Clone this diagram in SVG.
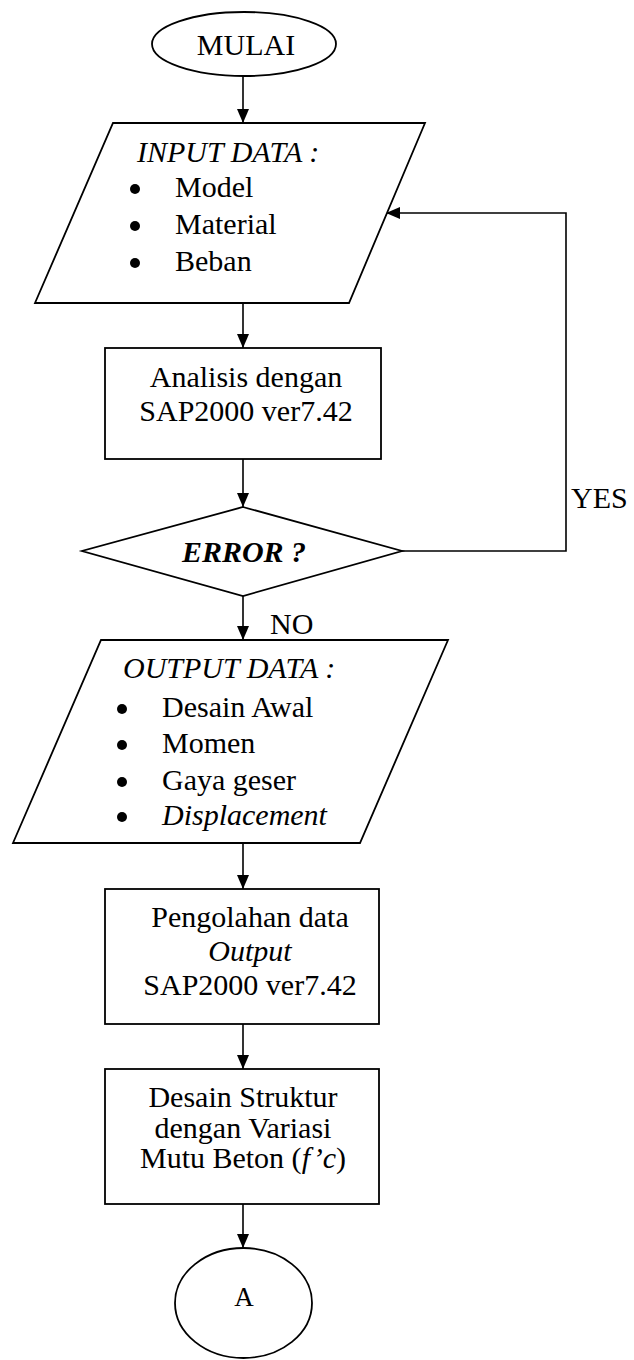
<svg xmlns="http://www.w3.org/2000/svg" width="634" height="1360" viewBox="0 0 634 1360" font-family="'Liberation Serif', 'Times New Roman', Times, 'DejaVu Serif', serif">
<style>
.shape{fill:#fff;stroke:#000;stroke-width:1.8}
.line{fill:none;stroke:#000;stroke-width:1.6}
text{font-family:'Liberation Serif', 'Times New Roman', Times, 'DejaVu Serif', serif;font-size:30px;fill:#000}
.c{text-anchor:middle}
.i{font-style:italic}
.b{font-weight:bold}
.dot{fill:#000}
</style>
<defs>
<marker id="arr" markerUnits="userSpaceOnUse" markerWidth="14" markerHeight="12" refX="14" refY="6" orient="auto">
<path d="M0,0 L14,6 L0,12 z" fill="#000"/>
</marker>
</defs>
<rect width="634" height="1360" fill="#fff"/>
<g id="connectors">
<line class="line" x1="243" y1="76" x2="243" y2="123" marker-end="url(#arr)"/>
<line class="line" x1="243" y1="303" x2="243" y2="348" marker-end="url(#arr)"/>
<line class="line" x1="243" y1="459" x2="243" y2="507" marker-end="url(#arr)"/>
<line class="line" x1="243" y1="596" x2="243" y2="640" marker-end="url(#arr)"/>
<polyline class="line" points="402,551 566,551 566,213 386,213" marker-end="url(#arr)"/>
<line class="line" x1="243" y1="843" x2="243" y2="889" marker-end="url(#arr)"/>
<line class="line" x1="243" y1="1024" x2="243" y2="1069" marker-end="url(#arr)"/>
<line class="line" x1="243" y1="1204" x2="243" y2="1248" marker-end="url(#arr)"/>
<text x="571" y="508">YES</text>
<text x="270" y="634">NO</text>
</g>
<g id="mulai">
<ellipse class="shape" cx="244" cy="44" rx="92" ry="32"/>
<text class="c" x="246" y="55">MULAI</text>
</g>
<g id="input">
<polygon class="shape" points="113,123 425,123 349,303 35,303"/>
<text class="i" x="137" y="162">INPUT DATA :</text>
<circle class="dot" cx="135" cy="189" r="5"/>
<text x="175" y="197">Model</text>
<circle class="dot" cx="135" cy="226" r="5"/>
<text x="175" y="234">Material</text>
<circle class="dot" cx="135" cy="263" r="5"/>
<text x="175" y="271">Beban</text>
</g>
<g id="analisis">
<rect class="shape" x="105" y="348" width="276" height="111"/>
<text class="c" x="246" y="387">Analisis dengan</text>
<text class="c" x="246" y="421">SAP2000 ver7.42</text>
</g>
<g id="error">
<polygon class="shape" points="243,507 402,551 243,596 82,551"/>
<text class="c i b" x="244" y="562">ERROR ?</text>
</g>
<g id="output">
<polygon class="shape" points="101,640 448,640 360,843 13,843"/>
<text class="i" x="123" y="678">OUTPUT DATA :</text>
<circle class="dot" cx="122" cy="709" r="5"/>
<text x="162" y="717">Desain Awal</text>
<circle class="dot" cx="122" cy="745" r="5"/>
<text x="162" y="753">Momen</text>
<circle class="dot" cx="122" cy="782" r="5"/>
<text x="162" y="790">Gaya geser</text>
<circle class="dot" cx="122" cy="817" r="5"/>
<text class="i" x="162" y="825">Displacement</text>
</g>
<g id="pengolahan">
<rect class="shape" x="105" y="889" width="274" height="135"/>
<text class="c" x="250" y="927">Pengolahan data</text>
<text class="c i" x="250" y="961">Output</text>
<text class="c" x="250" y="995">SAP2000 ver7.42</text>
</g>
<g id="desain">
<rect class="shape" x="105" y="1069" width="274" height="135"/>
<text class="c" x="243" y="1107">Desain Struktur</text>
<text class="c" x="243" y="1138">dengan Variasi</text>
<text class="c" x="243" y="1168">Mutu Beton (<tspan class="i">f’c</tspan>)</text>
</g>
<g id="a">
<ellipse class="shape" cx="243.5" cy="1303" rx="68.5" ry="55"/>
<text class="c" x="244" y="1306" style="font-size:27px">A</text>
</g>
</svg>
